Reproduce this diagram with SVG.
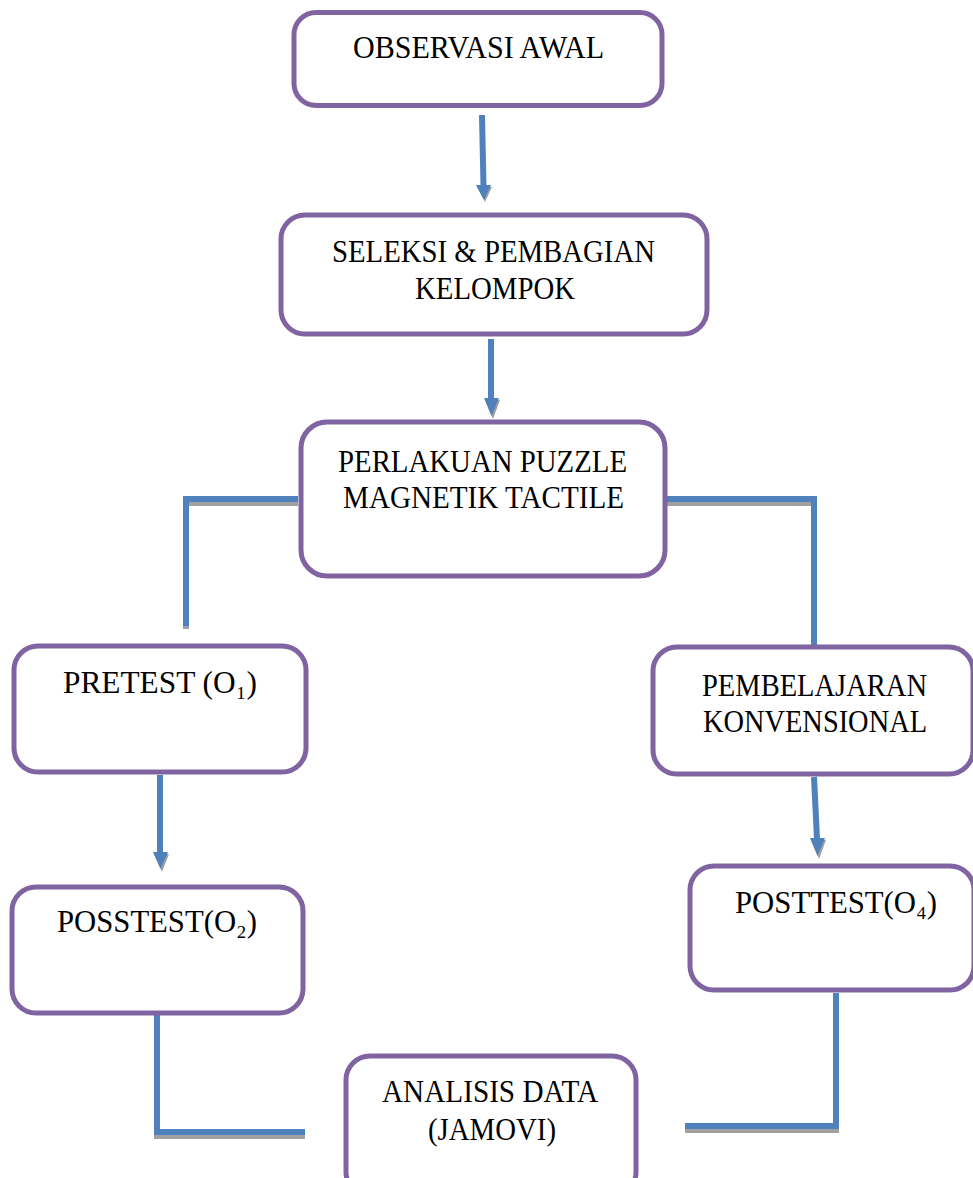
<svg xmlns="http://www.w3.org/2000/svg" width="973" height="1178" viewBox="0 0 973 1178">
<style>
.box{fill:#ffffff;stroke:#8064A2;stroke-width:5}
.lbl{font-family:"Liberation Serif","Times New Roman",serif;font-size:31px;fill:#000000;text-anchor:middle}
.ln{fill:none;stroke:#4F81BD;stroke-width:6;stroke-linejoin:miter;stroke-linecap:butt}
.sh{fill:none;stroke:#A0A0A0;stroke-width:6;stroke-linejoin:miter;stroke-linecap:butt}
.hd{fill:#4F81BD}
.hs{fill:#A0A0A0}
</style>
<rect width="973" height="1178" fill="#ffffff"/>
<g id="connectors">
  <line class="ln" x1="482" y1="115" x2="483.5" y2="186"/>
  <polygon class="hs" points="477,187 492,187 485,202"/>
  <polygon class="hd" points="476,185 491,185 484,200"/>
  <line class="ln" x1="491" y1="339" x2="491" y2="399"/>
  <polygon class="hs" points="485,400 500,400 493,419"/>
  <polygon class="hd" points="484,398 499,398 491.5,416"/>
  <polyline class="sh" points="298,503 186,503 186,629"/>
  <polyline class="ln" points="298,499 186,499 186,626"/>
  <polyline class="sh" points="666,503 814,503 814,647"/>
  <polyline class="ln" points="666,499 814,499 814,647"/>
  <line class="ln" x1="160" y1="775" x2="160" y2="853"/>
  <polygon class="hs" points="154,854 169,854 162,872"/>
  <polygon class="hd" points="153,852 168,852 160.5,869"/>
  <line class="ln" x1="814" y1="777" x2="817" y2="839"/>
  <polygon class="hs" points="811,840 826,840 819,859"/>
  <polygon class="hd" points="810,838 825,838 817.5,856"/>
  <polyline class="sh" points="157,1015 157,1136 305,1136"/>
  <polyline class="ln" points="157,1015 157,1132 305,1132"/>
  <polyline class="sh" points="685,1130 836,1130 836,993"/>
  <polyline class="ln" points="685,1126 836,1126 836,993"/>
</g>
<g id="n-observasi">
  <rect class="box" x="294" y="12.5" width="368" height="93" rx="22"/>
  <text class="lbl" x="478.5" y="58" textLength="251" lengthAdjust="spacingAndGlyphs">OBSERVASI AWAL</text>
</g>
<g id="n-seleksi">
  <rect class="box" x="281" y="215" width="426" height="119" rx="24"/>
  <text class="lbl" x="493.5" y="262" textLength="323" lengthAdjust="spacingAndGlyphs">SELEKSI &amp; PEMBAGIAN</text>
  <text class="lbl" x="495" y="299" textLength="160" lengthAdjust="spacingAndGlyphs">KELOMPOK</text>
</g>
<g id="n-perlakuan">
  <rect class="box" x="301" y="422" width="364" height="154" rx="26"/>
  <text class="lbl" x="482.5" y="472" textLength="289" lengthAdjust="spacingAndGlyphs">PERLAKUAN PUZZLE</text>
  <text class="lbl" x="483.5" y="508" textLength="281" lengthAdjust="spacingAndGlyphs">MAGNETIK TACTILE</text>
</g>
<g id="n-pretest">
  <rect class="box" x="14" y="646" width="292" height="126" rx="24"/>
  <text class="lbl" x="160" y="693" textLength="194" lengthAdjust="spacingAndGlyphs">PRETEST (O₁)</text>
</g>
<g id="n-pembelajaran">
  <rect class="box" x="653" y="647" width="320" height="127" rx="24"/>
  <text class="lbl" x="814.5" y="696" textLength="225" lengthAdjust="spacingAndGlyphs">PEMBELAJARAN</text>
  <text class="lbl" x="815" y="732" textLength="224" lengthAdjust="spacingAndGlyphs">KONVENSIONAL</text>
</g>
<g id="n-posstest">
  <rect class="box" x="12" y="887" width="291" height="126" rx="24"/>
  <text class="lbl" x="157" y="932" textLength="200" lengthAdjust="spacingAndGlyphs">POSSTEST(O₂)</text>
</g>
<g id="n-posttest">
  <rect class="box" x="690" y="866" width="284" height="124" rx="24"/>
  <text class="lbl" x="836" y="913" textLength="202" lengthAdjust="spacingAndGlyphs">POSTTEST(O₄)</text>
</g>
<g id="n-analisis">
  <rect class="box" x="346" y="1056" width="290" height="140" rx="24"/>
  <text class="lbl" x="490" y="1102" textLength="216" lengthAdjust="spacingAndGlyphs">ANALISIS DATA</text>
  <text class="lbl" x="492" y="1140" textLength="128" lengthAdjust="spacingAndGlyphs">(JAMOVI)</text>
</g>
</svg>
